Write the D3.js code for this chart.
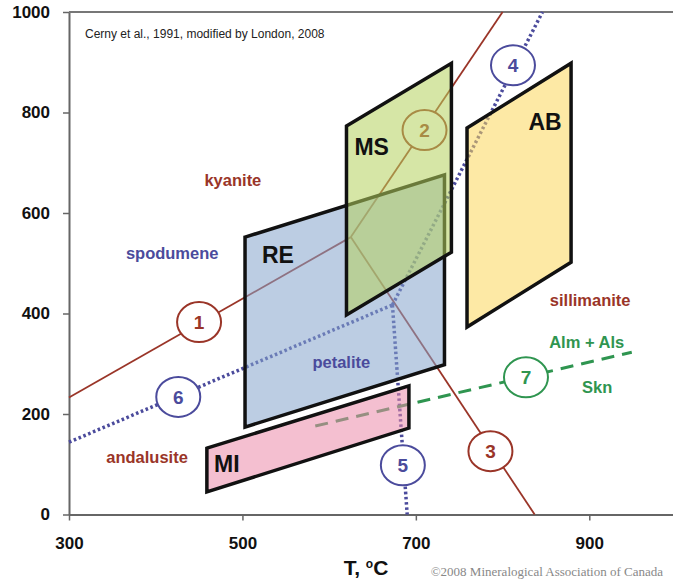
<!DOCTYPE html>
<html>
<head>
<meta charset="utf-8">
<script src="https://cdn.jsdelivr.net/npm/d3@7"></script>
<style>
  body { margin: 0; background: #fff; }
  svg text { font-family: "Liberation Sans", Arial, sans-serif; }
</style>
</head>
<body>
<script>
// reaction lines, [T, P] pairs
var line1 = [[300, 233], [625, 552]];   // kyanite / andalusite
var line2 = [[625, 552], [800, 1000]];  // kyanite / sillimanite
var line3 = [[625, 552], [837, 0]];     // andalusite / sillimanite
var line6 = [[300, 144], [673, 417]];   // spodumene / petalite
var line4 = [[673, 417], [846, 1000]];
var line5 = [[673, 417], [690, 0]];
var line7 = [[584, 176], [949, 323]];   // Alm + Als / Skn

// numbered markers
var markerIds = [1, 2, 3, 4, 5, 6, 7];
var markerT = [450, 710, 786, 812, 685, 426, 827];
var markerP = [383, 765, 126, 894, 98, 234, 273];

// pegmatite class fields
var fieldRE = [[503, 552], [733, 676], [733, 298], [503, 174]];
var fieldMS = [[620, 773], [741, 898], [741, 522], [620, 397]];
var fieldAB = [[759, 769], [879, 898], [879, 502], [759, 373]];
var fieldMI = [[459, 132], [692, 256], [692, 172], [459, 45]];

var xTicks = [300, 500, 700, 900];
var yTicks = [0, 200, 400, 600, 800, 1000];

var phaseNames = ["kyanite", "spodumene", "petalite", "sillimanite", "Alm + Als", "Skn", "andalusite"];
var phaseT = [489, 419, 614, 901, 897, 909, 390];
var phaseP = [666, 520, 303, 427, 343, 254, 114];

var fieldNames = ["RE", "MS", "AB", "MI"];
var fieldT = [541, 649, 849, 482];
var fieldP = [516, 731, 781, 102];

var brown = "#9a3528", blue = "#4b4b9c", green = "#2f9550";

var width = 673, height = 580;
var svg = d3.select("body").append("svg")
    .attr("width", width)
    .attr("height", height);

var x = d3.scaleLinear().domain([300, 1000]).range([69, 676]);
var y = d3.scaleLinear().domain([0, 1000]).range([514.5, 12]);

var line = d3.line()
    .x(function(d) { return x(d[0]); })
    .y(function(d) { return y(d[1]); });

// axes
var xAxis = svg.append("g")
    .attr("transform", "translate(0," + y(0) + ")")
    .call(d3.axisBottom(x).tickValues(xTicks).tickSize(6).tickSizeOuter(0).tickPadding(16).tickFormat(d3.format("d")));
var yAxis = svg.append("g")
    .attr("transform", "translate(" + x(300) + ",0)")
    .call(d3.axisLeft(y).tickValues(yTicks).tickSize(6).tickSizeOuter(0).tickPadding(13).tickFormat(d3.format("d")));

[xAxis, yAxis].forEach(function(g) {
  g.select(".domain").attr("stroke", "#666").attr("stroke-width", 2);
  g.selectAll(".tick line").attr("stroke", "#666").attr("stroke-width", 1.5);
  g.selectAll(".tick text")
    .attr("fill", "#111")
    .style("font-size", "17px")
    .style("font-weight", "bold")
    .style("font-family", "'Liberation Sans', Arial, sans-serif");
});

// top frame line
svg.append("line")
    .attr("x1", x(300)).attr("x2", width)
    .attr("y1", y(1000)).attr("y2", y(1000))
    .attr("stroke", "#777").attr("stroke-width", 2);

// reaction lines
[line1, line2, line3].forEach(function(d) {
  svg.append("path").datum(d).attr("d", line)
    .attr("fill", "none").attr("stroke", brown).attr("stroke-width", 1.8);
});
[line6, line4, line5].forEach(function(d) {
  svg.append("path").datum(d).attr("d", line)
    .attr("fill", "none").attr("stroke", blue).attr("stroke-width", 3.5)
    .attr("stroke-dasharray", "2.6,2.6");
});
svg.append("path").datum(line7).attr("d", line)
    .attr("fill", "none").attr("stroke", green).attr("stroke-width", 3)
    .attr("stroke-dasharray", "13,8");

// numbered circles
var markerColor = [brown, brown, brown, blue, blue, blue, green];
var markers = svg.selectAll(".marker")
    .data(markerIds)
  .enter().append("g")
    .attr("class", "marker")
    .attr("transform", function(d, i) { return "translate(" + x(markerT[i]) + "," + y(markerP[i]) + ")"; });
markers.append("ellipse")
    .attr("rx", 22).attr("ry", 20)
    .attr("fill", "#fff")
    .attr("stroke", function(d, i) { return markerColor[i]; })
    .attr("stroke-width", 2);
markers.append("text")
    .attr("text-anchor", "middle")
    .attr("dy", "0.36em")
    .attr("fill", function(d, i) { return markerColor[i]; })
    .style("font-size", "19px")
    .style("font-weight", "bold")
    .text(function(d) { return d; });

// fields
var fields = [fieldRE, fieldMS, fieldAB, fieldMI];
var fieldFill = ["rgba(133,164,204,0.55)", "rgba(180,209,93,0.55)", "rgba(251,215,91,0.55)", "rgba(235,139,170,0.55)"];
svg.selectAll(".field")
    .data(fields)
  .enter().append("path")
    .attr("class", "field")
    .attr("d", function(d) { return line(d) + "Z"; })
    .attr("fill", function(d, i) { return fieldFill[i]; })
    .attr("stroke", "#111")
    .attr("stroke-width", 3.5)
    .attr("stroke-linejoin", "miter");

svg.selectAll(".fieldName")
    .data(fieldNames)
  .enter().append("text")
    .attr("x", function(d, i) { return x(fieldT[i]); })
    .attr("y", function(d, i) { return y(fieldP[i]); })
    .attr("text-anchor", "middle")
    .attr("dy", "0.36em")
    .attr("fill", "#111")
    .style("font-size", "23px")
    .style("font-weight", "bold")
    .text(function(d) { return d; });

var phaseColor = [brown, blue, blue, brown, green, green, brown];
svg.selectAll(".phase")
    .data(phaseNames)
  .enter().append("text")
    .attr("x", function(d, i) { return x(phaseT[i]); })
    .attr("y", function(d, i) { return y(phaseP[i]); })
    .attr("text-anchor", "middle")
    .attr("dy", "0.36em")
    .attr("fill", function(d, i) { return phaseColor[i]; })
    .style("font-size", "16.5px")
    .style("font-weight", "bold")
    .text(function(d) { return d; });

// source note
svg.append("text")
    .attr("x", 85).attr("y", 38)
    .attr("fill", "#222")
    .style("font-size", "12px")
    .text("Cerny et al., 1991, modified by London, 2008");

// axis title
var xt = svg.append("text")
    .attr("x", 366).attr("y", 575)
    .attr("text-anchor", "middle")
    .attr("fill", "#111")
    .style("font-size", "21px")
    .style("font-weight", "bold");
xt.append("tspan").text("T, ");
xt.append("tspan").attr("dy", -7).style("font-size", "12px").text("o");
xt.append("tspan").attr("dy", 7).text("C");

svg.append("text")
    .attr("x", 663).attr("y", 576)
    .attr("text-anchor", "end")
    .attr("fill", "#888")
    .style("font-family", "'Liberation Serif', 'Times New Roman', serif")
    .style("font-size", "13px")
    .text("\u00a92008 Mineralogical Association of Canada");
</script>
</body>
</html>
